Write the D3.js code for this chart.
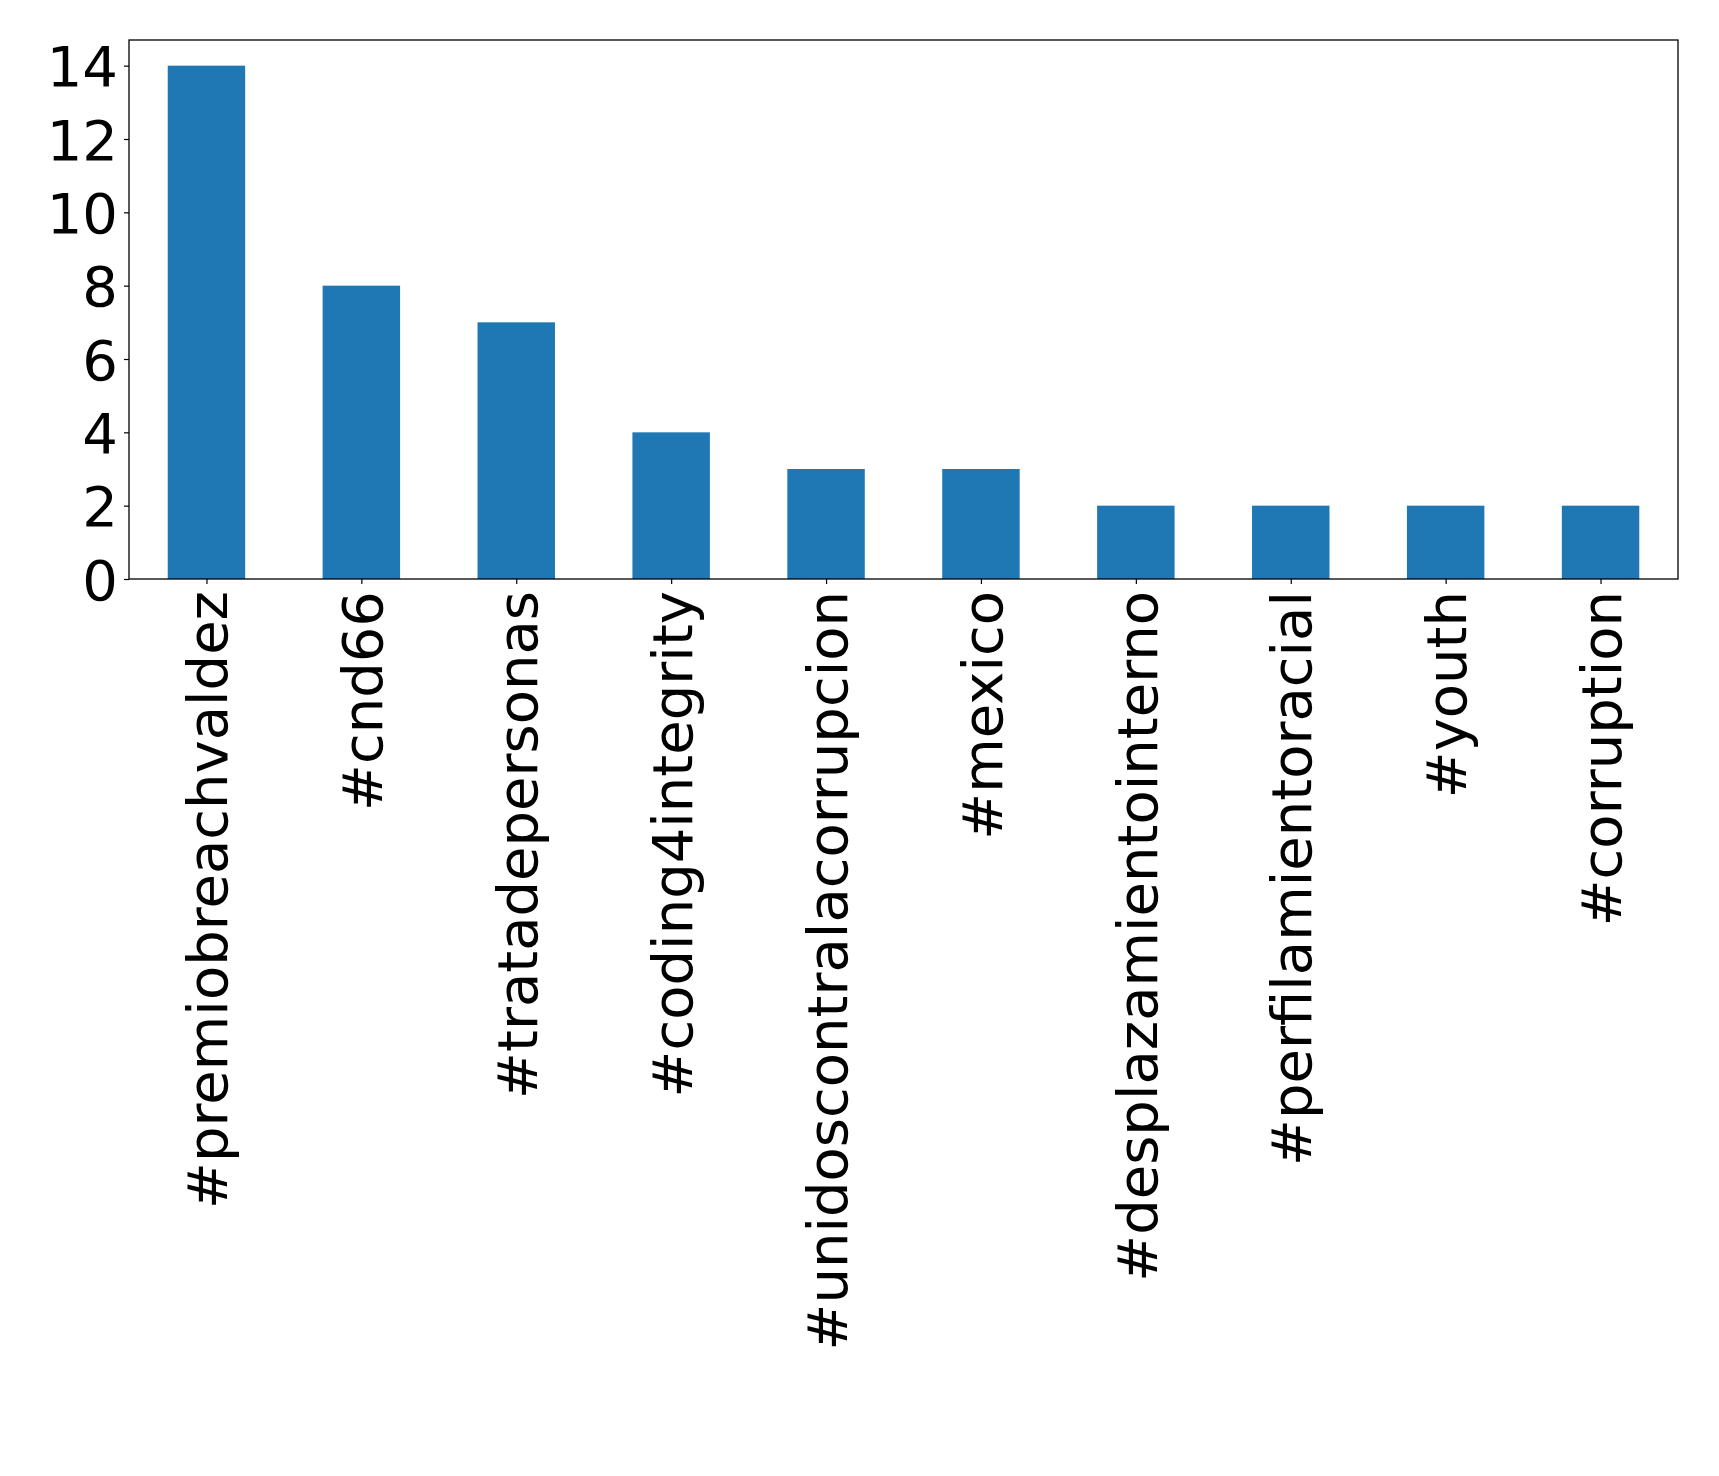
<!DOCTYPE html>
<html><head><meta charset="utf-8">
<script src="https://cdn.jsdelivr.net/npm/d3@7"></script>
<style>body{margin:0;background:#fff}svg{display:block}</style>
</head><body>
<script>
const categories=["#premiobreachvaldez","#cnd66","#tratadepersonas","#coding4integrity","#unidoscontralacorrupcion","#mexico","#desplazamientointerno","#perfilamientoracial","#youth","#corruption"];
const values=[14,8,7,4,3,3,2,2,2,2];
const yTicks=[0,2,4,6,8,10,12,14];
const W=1719,H=1476,L=129,R=1678,T=40,B=579;
const svg=d3.select("body").append("svg").attr("width",W).attr("height",H);
const x=d3.scaleLinear().domain([-0.5,categories.length-0.5]).range([L,R]);
const y=d3.scaleLinear().domain([0,14.7]).range([B,T]);
svg.selectAll("rect.bar").data(values).join("rect").attr("class","bar")
 .attr("x",(d,i)=>x(i-0.25)).attr("width",(d,i)=>x(i+0.25)-x(i-0.25))
 .attr("y",d=>y(d)).attr("height",d=>y(0)-y(d)).attr("fill","#1f77b4");
const font="DejaVu Sans";
const ya=svg.append("g").attr("transform",`translate(${L},0)`)
 .call(d3.axisLeft(y).tickValues(yTicks).tickSize(5).tickPadding(6).tickFormat(d3.format("d")));
ya.selectAll("text").attr("font-family",font).attr("font-size",56).attr("fill","#000").attr("dy","0.36em");
const xa=svg.append("g").attr("transform",`translate(0,${B})`)
 .call(d3.axisBottom(x).tickValues(d3.range(categories.length)).tickSize(5).tickFormat(i=>categories[i]));
xa.selectAll("text").attr("font-family",font).attr("font-size",56).attr("fill","#000")
 .attr("transform","rotate(-90)").attr("text-anchor","end").attr("x",-12).attr("y",0).attr("dy","0.36em");
[ya,xa].forEach(a=>{a.select(".domain").remove();a.selectAll("line").attr("stroke","#000").attr("stroke-width",1.2);});
svg.append("rect").attr("x",L).attr("y",T).attr("width",R-L).attr("height",B-T)
 .attr("fill","none").attr("stroke","#000").attr("stroke-width",1.3);
</script>
</body></html>
